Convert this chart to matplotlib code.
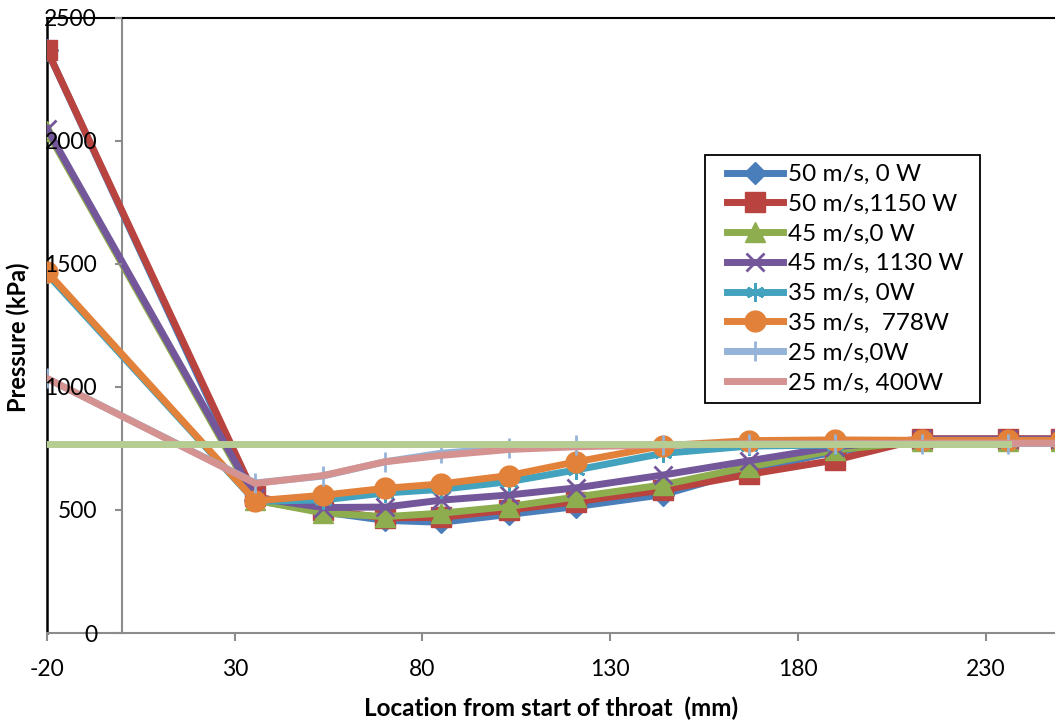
import matplotlib
matplotlib.use("Agg")
import matplotlib.pyplot as plt
from matplotlib.patches import Rectangle

plt.rcParams['font.family'] = ['Lato', 'DejaVu Sans']
plt.rcParams['axes.unicode_minus'] = False

# location from start of throat (mm)
x = [-20, 35.5, 53.5, 70, 85, 103, 121, 144, 167, 190, 213, 236, 250]

# pressure (kPa) per case
p_50_0 = [2370, 540, 492, 458, 450, 482, 514, 562, 663, 737, 785, 785, 785]
p_50_1150 = [2370, 555, 500, 468, 470, 500, 534, 581, 645, 703, 790, 790, 790]
p_45_0 = [2040, 540, 488, 473, 487, 514, 553, 602, 676, 744, 780, 780, 780]
p_45_1130 = [2050, 550, 510, 512, 540, 561, 590, 642, 700, 757, 788, 788, 788]
p_35_0 = [1460, 535, 541, 569, 584, 615, 663, 730, 760, 764, 775, 775, 775]
p_35_778 = [1469, 537, 560, 588, 606, 640, 696, 761, 782, 785, 783, 783, 783]
p_25_0 = [1035, 610, 638, 696, 731, 752, 764, 766, 768, 768, 770, 770, 770]
p_25_400 = [1035, 608, 640, 696, 722, 746, 757, 764, 768, 768, 772, 772, 772]
p_ref = [768] * 12

labels = ["50 m/s, 0 W", "50 m/s,1150 W", "45 m/s,0 W", "45 m/s, 1130 W",
          "35 m/s, 0W", "35 m/s,  778W", "25 m/s,0W", "25 m/s, 400W"]

fig = plt.figure(figsize=(10.55, 7.26), dpi=100)
ax = fig.add_axes([47 / 1055, 1 - 633 / 726, 1008 / 1055, 615 / 726])

lw = 5
z = 3
ax.plot(x, p_50_0, color='#4A7EBB', lw=lw, marker='D', ms=11, mec='#4A7EBB', label=labels[0], zorder=z)
ax.plot(x, p_50_1150, color='#B8433F', lw=lw, marker='s', ms=14, mec='#B8433F', label=labels[1], zorder=z)
ax.plot(x, p_45_0, color='#8EAD4F', lw=lw, marker='^', ms=15, mec='#8EAD4F', label=labels[2], zorder=z)
ax.plot(x, p_45_1130, color='#73579A', lw=lw, marker='x', ms=13, mew=2, label=labels[3], zorder=z)
ax.plot(x, p_35_0, color='#43A2BE', lw=lw, marker=(6, 2, 0), ms=13, mew=2, label=labels[4], zorder=z)
ax.plot(x, p_35_778, color='#E2823A', lw=lw, marker='o', ms=15, mec='#E2823A', label=labels[5], zorder=z)
ax.plot(x, p_25_0, color='#95B3D7', lw=lw, marker='|', ms=14, mew=2, label=labels[6], zorder=z)
ax.plot(x, p_25_400, color='#D49390', lw=lw, label=labels[7], zorder=z)
ax.plot(x[:-1], p_ref, color='#B5CC92', lw=lw, zorder=z)

ax.set_xlim(-20, 248.5)
ax.set_ylim(0, 2500)
ax.set_xticks([-20, 30, 80, 130, 180, 230])
ax.set_yticks([0, 500, 1000, 1500, 2000, 2500])

grey = '#8C8C8C'
ax.spines['right'].set_visible(False)
ax.spines['top'].set_color('black')
ax.spines['top'].set_linewidth(1.5)
ax.spines['bottom'].set_color(grey)
ax.spines['bottom'].set_linewidth(1.5)
ax.spines['left'].set_position(('data', 0))
ax.spines['left'].set_color(grey)
ax.spines['left'].set_linewidth(1.5)
ax.axvline(-20, color='black', lw=1.8, clip_on=False, zorder=0)

ax.tick_params(axis='x', direction='out', length=6, width=1.5, color=grey,
               labelsize=16.5, pad=13)
ax.tick_params(axis='y', direction='out', length=5, width=1.5, color=grey,
               labelsize=16.5, pad=13)
ax.xaxis.set_zorder(4)
ax.yaxis.set_zorder(4)

fig.text(18 / 1055, 1 - 337 / 726, 'Pressure (kPa)', rotation=90, fontsize=17,
         fontweight='bold', ha='center', va='center')
fig.text(551 / 1055, 1 - 708 / 726, 'Location from start of throat  (mm)', fontsize=17.5,
         fontweight='bold', ha='center', va='center')

# legend frame drawn separately so the inner padding matches
ax.add_patch(Rectangle((705 / 1055, 1 - 403 / 726), 275 / 1055, 248 / 726,
                       transform=fig.transFigure, facecolor='white',
                       edgecolor='black', lw=1.3, zorder=5, clip_on=False))
leg = ax.legend(loc='upper left', bbox_to_anchor=(727 / 1055, 1 - 164 / 726),
                bbox_transform=fig.transFigure, fontsize=17.5, frameon=False,
                handlelength=2.3, handletextpad=0.2, labelspacing=0.36,
                borderpad=0, borderaxespad=0)
leg.set_zorder(6)

fig.savefig('out.png', dpi=100)
